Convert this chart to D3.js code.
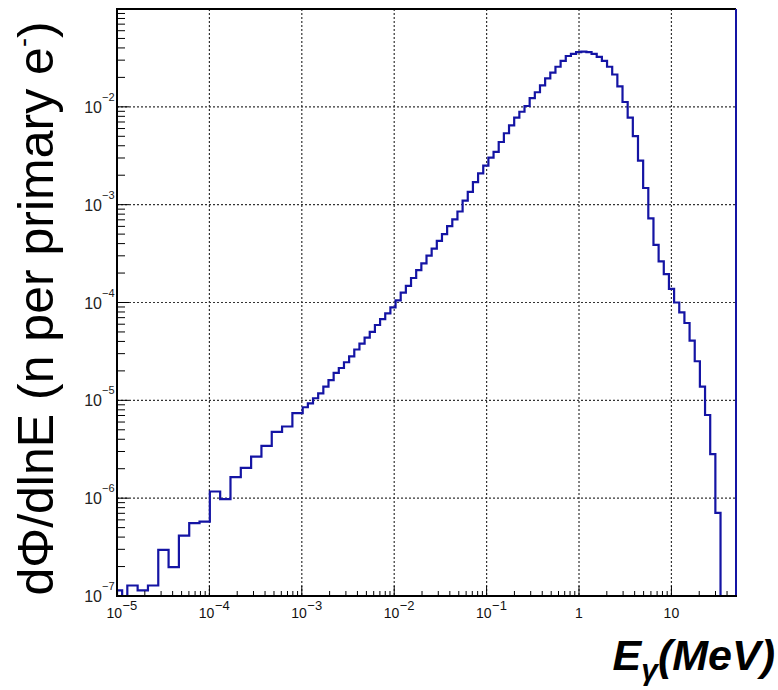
<!DOCTYPE html>
<html>
<head>
<meta charset="utf-8">
<script src="https://cdn.jsdelivr.net/npm/d3@7"></script>
<style>
body { margin: 0; background: #fff; }
svg { display: block; font-family: "Liberation Sans", Arial, sans-serif; }
</style>
</head>
<body>
<div id="plot-container"></div>
<script>
// histogram: 120 bins of equal width in log(E), from 1e-5 to 50 MeV
const eMin = 1e-5;
const eMax = 50;
const nBins = 120;

// dPhi/dlnE per bin (0 = empty bin)
const flux = [
    1.14e-7, 0, 1.28e-7, 1.28e-7, 1.14e-7, 1.14e-7, 1.28e-7, 1.28e-7, 2.96e-7, 2.96e-7,
    1.97e-7, 1.97e-7, 4.15e-7, 4.15e-7, 5.55e-7, 5.55e-7, 5.77e-7, 5.77e-7, 1.17e-6, 1.17e-6,
    9.8e-7, 9.8e-7, 1.64e-6, 1.64e-6, 2.04e-6, 2.04e-6, 2.66e-6, 2.66e-6, 3.42e-6, 3.42e-6,
    4.75e-6, 4.75e-6, 5.4e-6, 5.4e-6, 7.4e-6, 7.4e-6, 8.5e-6, 9.3e-6, 1.05e-5, 1.18e-5,
    1.38e-5, 1.61e-5, 1.91e-5, 2.14e-5, 2.45e-5, 2.82e-5, 3.31e-5, 3.80e-5, 4.37e-5, 5.01e-5,
    5.89e-5, 6.76e-5, 7.76e-5, 8.91e-5, 1.05e-4, 1.26e-4, 1.48e-4, 1.78e-4, 2.14e-4, 2.51e-4,
    3.02e-4, 3.55e-4, 4.27e-4, 5.01e-4, 6.03e-4, 7.08e-4, 8.51e-4, 1.10e-3, 1.35e-3, 1.70e-3,
    2.09e-3, 2.51e-3, 3.02e-3, 3.47e-3, 4.37e-3, 5.37e-3, 6.46e-3, 7.76e-3, 8.91e-3, 1.02e-2,
    1.23e-2, 1.41e-2, 1.66e-2, 1.95e-2, 2.24e-2, 2.57e-2, 2.95e-2, 3.31e-2, 3.47e-2, 3.63e-2,
    3.66e-2, 3.63e-2, 3.47e-2, 3.24e-2, 2.95e-2, 2.57e-2, 2.14e-2, 1.62e-2, 1.12e-2, 7.76e-3,
    5.01e-3, 2.82e-3, 1.48e-3, 7.24e-4, 3.89e-4, 2.63e-4, 1.95e-4, 1.38e-4, 1.00e-4, 7.94e-5,
    6.17e-5, 4.07e-5, 2.51e-5, 1.38e-5, 7.08e-6, 2.82e-6, 7.08e-7, 0, 0, 0
];

const xTickValues = [1e-5, 1e-4, 1e-3, 1e-2, 1e-1, 1, 10];
const xTickLabels = ["10^-5", "10^-4", "10^-3", "10^-2", "10^-1", "1", "10"];
const yTickValues = [1e-7, 1e-6, 1e-5, 1e-4, 1e-3, 1e-2];
const yTickLabels = ["10^-7", "10^-6", "10^-5", "10^-4", "10^-3", "10^-2"];
const yDomain = [1e-7, 1e-1];

const margin = { top: 9, right: 42, bottom: 94, left: 117 };
const width = 778 - margin.left - margin.right;
const height = 690 - margin.top - margin.bottom;

const svgRoot = d3.select("#plot-container")
    .append("svg")
    .attr("width", 778)
    .attr("height", 690);

const svg = svgRoot.append("g")
    .attr("transform", "translate(" + margin.left + "," + margin.top + ")");

const x = d3.scaleLog().domain([eMin, eMax]).range([0, width]);
const y = d3.scaleLog().domain(yDomain).range([height, 0]);

// minor tick values 2..9 per decade
function minorTicks(domain) {
    const out = [];
    for (let e = Math.floor(Math.log10(domain[0])); e <= Math.ceil(Math.log10(domain[1])); e++) {
        for (let m = 2; m <= 9; m++) {
            const v = m * Math.pow(10, e);
            if (v > domain[0] && v < domain[1]) out.push(v);
        }
    }
    return out;
}

// dotted grid
svg.append("g").selectAll("line")
    .data(xTickValues.filter(v => v > eMin && v < eMax))
    .enter().append("line")
    .attr("x1", d => x(d)).attr("x2", d => x(d))
    .attr("y1", 0).attr("y2", height)
    .attr("stroke", "#333").attr("stroke-width", 1.2)
    .attr("stroke-dasharray", "2,2");

svg.append("g").selectAll("line")
    .data(yTickValues.filter(v => v > yDomain[0]))
    .enter().append("line")
    .attr("x1", 0).attr("x2", width)
    .attr("y1", d => y(d)).attr("y2", d => y(d))
    .attr("stroke", "#333").attr("stroke-width", 1.2)
    .attr("stroke-dasharray", "2,2");

// histogram as a step line
const ratio = Math.pow(eMax / eMin, 1 / nBins);
const pts = [[eMin, 0]];
flux.forEach((v, i) => {
    const lo = eMin * Math.pow(ratio, i);
    const hi = lo * ratio;
    pts.push([lo, v], [hi, v]);
});
pts.push([eMax, 0]);

svg.append("clipPath").attr("id", "clip")
    .append("rect").attr("width", width).attr("height", height);

const line = d3.line()
    .x(d => x(d[0]))
    .y(d => d[1] > 0 ? y(d[1]) : height);

svg.append("path")
    .datum(pts)
    .attr("clip-path", "url(#clip)")
    .attr("fill", "none")
    .attr("stroke", "#1414a4")
    .attr("stroke-width", 2.2)
    .attr("stroke-linejoin", "miter")
    .attr("d", line);

// frame
svg.append("line").attr("x1", 0).attr("x2", width).attr("y1", 0).attr("y2", 0)
    .attr("stroke", "#000").attr("stroke-width", 2);
svg.append("line").attr("x1", width).attr("x2", width).attr("y1", 0).attr("y2", height)
    .attr("stroke", "#1414a4").attr("stroke-width", 2);

// axes, ticks pointing inward
const xAxis = svg.append("g").attr("transform", "translate(0," + height + ")");
xAxis.append("line").attr("x1", -1).attr("x2", width + 1)
    .attr("stroke", "#000").attr("stroke-width", 2);
xAxis.selectAll("line.minor")
    .data(minorTicks(x.domain()))
    .enter().append("line").attr("class", "minor")
    .attr("x1", d => x(d)).attr("x2", d => x(d))
    .attr("y1", 0).attr("y2", -5)
    .attr("stroke", "#000").attr("stroke-width", 1);
xAxis.selectAll("line.major")
    .data(xTickValues)
    .enter().append("line").attr("class", "major")
    .attr("x1", d => x(d)).attr("x2", d => x(d))
    .attr("y1", 0).attr("y2", -10)
    .attr("stroke", "#000").attr("stroke-width", 1);

const yAxis = svg.append("g");
yAxis.append("line").attr("y1", -1).attr("y2", height + 1)
    .attr("stroke", "#000").attr("stroke-width", 2);
yAxis.selectAll("line.minor")
    .data(minorTicks(y.domain()))
    .enter().append("line").attr("class", "minor")
    .attr("y1", d => y(d)).attr("y2", d => y(d))
    .attr("x1", 0).attr("x2", 8)
    .attr("stroke", "#000").attr("stroke-width", 1);
yAxis.selectAll("line.major")
    .data(yTickValues)
    .enter().append("line").attr("class", "major")
    .attr("y1", d => y(d)).attr("y2", d => y(d))
    .attr("x1", 0).attr("x2", 12)
    .attr("stroke", "#000").attr("stroke-width", 1);

// tick labels
xTickValues.forEach((v, i) => {
    const parts = xTickLabels[i].split("^");
    const tx = x(v);
    if (parts.length === 2) {
        xAxis.append("text").attr("x", tx + 5).attr("y", 22)
            .attr("text-anchor", "end").attr("font-size", 14).attr("fill", "#111")
            .text(parts[0]);
        xAxis.append("text").attr("x", tx + 5.5).attr("y", 14)
            .attr("text-anchor", "start").attr("font-size", 13).attr("fill", "#111")
            .text(parts[1].replace("-", "\u2212"));
    } else {
        xAxis.append("text").attr("x", tx).attr("y", 22)
            .attr("text-anchor", "middle").attr("font-size", 14).attr("fill", "#111")
            .text(parts[0]);
    }
});

yTickValues.forEach((v, i) => {
    const parts = yTickLabels[i].split("^");
    const ty = y(v);
    yAxis.append("text").attr("x", -15).attr("y", ty + 6)
        .attr("text-anchor", "end").attr("font-size", 16).attr("fill", "#222")
        .text(parts[0]);
    yAxis.append("text").attr("x", -15).attr("y", ty - 6)
        .attr("text-anchor", "start").attr("font-size", 11).attr("fill", "#222")
        .text(parts[1].replace("-", "\u2212"));
});

// axis titles
const yTitle = svgRoot.append("text")
    .attr("transform", "translate(53," + (margin.top + height / 2 + 6) + ") rotate(-90)")
    .attr("text-anchor", "middle")
    .attr("font-size", 50)
    .attr("fill", "#000");
yTitle.append("tspan").text("d\u03A6/dlnE (n per primary e");
yTitle.append("tspan").attr("font-size", 27).attr("dy", -21).text("-");
yTitle.append("tspan").attr("dy", 21).text(")");

const xTitle = svgRoot.append("text")
    .attr("x", 775).attr("y", 670)
    .attr("text-anchor", "end")
    .attr("font-size", 43)
    .attr("font-weight", "bold")
    .attr("font-style", "italic")
    .attr("fill", "#000");
xTitle.append("tspan").text("E");
xTitle.append("tspan").attr("font-size", 30).attr("dy", 10).text("\u03B3");
xTitle.append("tspan").attr("dy", -10).text("(MeV)");
</script>
</body>
</html>
